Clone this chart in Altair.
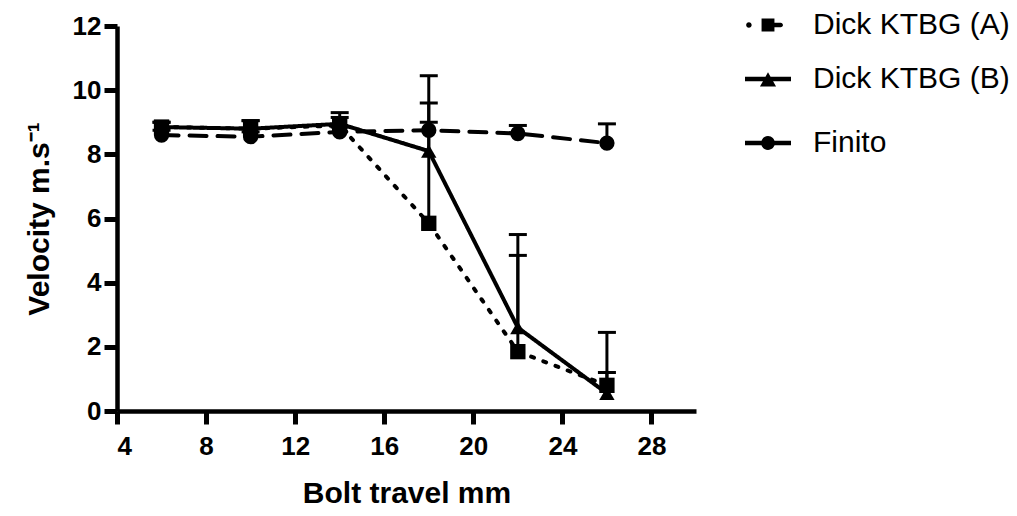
import altair as alt
import pandas as pd

# ---- data ----
bolt_travel = [6, 10, 14, 18, 22, 26]
series_names = ["Dick KTBG (A)", "Dick KTBG (B)", "Finito"]

dick_a_mean = [8.85, 8.80, 8.90, 5.85, 1.85, 0.80]
dick_a_upper = [9.00, 9.05, 9.30, 10.45, 4.85, 1.20]

dick_b_mean = [8.85, 8.80, 8.95, 8.10, 2.60, 0.55]
dick_b_upper = [9.00, 9.05, 9.15, 9.60, 5.50, 2.45]

finito_mean = [8.60, 8.55, 8.70, 8.75, 8.65, 8.35]
finito_upper = [8.75, 8.70, 8.85, 9.00, 8.90, 8.95]

x_ticks = [4, 8, 12, 16, 20, 24, 28]
y_ticks = [0, 2, 4, 6, 8, 10, 12]

rows = []
for name, means, uppers in zip(series_names,
                               [dick_a_mean, dick_b_mean, finito_mean],
                               [dick_a_upper, dick_b_upper, finito_upper]):
    for xv, m, u in zip(bolt_travel, means, uppers):
        rows.append({"x": xv, "series": name, "mean": m, "upper": u})
df = pd.DataFrame(rows)

FONT = "Liberation Sans"

x_enc = alt.X("x:Q", scale=alt.Scale(domain=[4, 30], nice=False, zero=False),
              axis=alt.Axis(values=x_ticks, title="Bolt travel mm",
                            labelPadding=9, titlePadding=19))
y_enc = alt.Y("mean:Q", scale=alt.Scale(domain=[0, 12], nice=False),
              axis=alt.Axis(values=y_ticks, title="Velocity m.s\u207b\u00b9",
                            labelPadding=3, titlePadding=18))

base = alt.Chart(df)

lines = base.mark_line(color="black", strokeWidth=4, strokeCap="round",
                       strokeJoin="round").encode(
    x=x_enc, y=y_enc, detail="series:N",
    strokeDash=alt.StrokeDash("series:N",
                              scale=alt.Scale(domain=series_names,
                                              range=[[3, 10], [1, 0], [17, 11]]),
                              legend=None),
)

bars = base.mark_rule(color="black", strokeWidth=3).encode(
    x="x:Q", y="mean:Q", y2="upper:Q")

caps = base.mark_tick(orient="horizontal", size=18, thickness=3,
                      color="black", opacity=1).encode(x="x:Q", y="upper:Q")

markers = base.mark_point(filled=True, opacity=1, color="black",
                          strokeWidth=0, size=235).encode(
    x="x:Q", y="mean:Q",
    shape=alt.Shape("series:N",
                    scale=alt.Scale(domain=series_names,
                                    range=["square", "triangle-up", "circle"]),
                    legend=None),
)

# legend glyph paths (line style + marker)
rect = "M-1,-0.095 L1,-0.095 L1,0.095 L-1,0.095 Z "
path_a = ("M-0.95,0 A0.12,0.12 0 1,1 -0.71,0 A0.12,0.12 0 1,1 -0.95,0 Z "
          "M-0.28,-0.28 L0.28,-0.28 L0.28,0.28 L-0.28,0.28 Z "
          "M0.2,-0.1 L0.55,-0.1 A0.1,0.1 0 0,1 0.55,0.1 L0.2,0.1 Z")
path_b = rect + "M0,-0.29 L0.35,0.33 L-0.35,0.33 Z"
path_f = rect + "M-0.3,0 A0.3,0.3 0 1,1 0.3,0 A0.3,0.3 0 1,1 -0.3,0 Z"


def legend_props(ly, rp):
    return dict(title=None, orient="none", legendX=628, legendY=ly,
                symbolSize=2116, symbolStrokeWidth=0, symbolFillColor="black",
                symbolOpacity=1, labelFont=FONT, labelFontSize=30,
                labelColor="black", labelOffset=22, rowPadding=rp,
                padding=0, labelLimit=400)


legend_ab = base.transform_filter("false").mark_point(
    filled=True, opacity=1, color="black", strokeWidth=0).encode(
    x="x:Q", y="mean:Q",
    shape=alt.Shape("series:N",
                    scale=alt.Scale(domain=series_names[:2], range=[path_a, path_b]),
                    legend=alt.Legend(**legend_props(-24, 16))),
)

legend_f = base.transform_filter("false").mark_point(
    filled=True, opacity=1, color="black", strokeWidth=0).encode(
    x="x:Q", y="mean:Q",
    shape=alt.Shape("series:N",
                    scale=alt.Scale(domain=series_names[2:], range=[path_f]),
                    legend=alt.Legend(**legend_props(94, 16))),
)

chart = alt.layer(lines, bars, caps, markers, legend_ab, legend_f).resolve_scale(
    shape="independent"
).properties(
    width=579, height=385,
    autosize=alt.AutoSizeParams(type="none"),
    padding={"left": 109, "top": 18, "right": 313, "bottom": 97},
).configure_view(stroke="transparent").configure_axis(
    grid=False, domainColor="black", domainWidth=4.5, tickColor="black",
    tickWidth=5, tickSize=13, labelFont=FONT, labelFontSize=26,
    labelFontWeight="bold", labelColor="black", titleFont=FONT,
    titleFontSize=30, titleFontWeight="bold", titleColor="black",
)

chart.save("out.html", embed_options={"renderer": "svg", "actions": False})
